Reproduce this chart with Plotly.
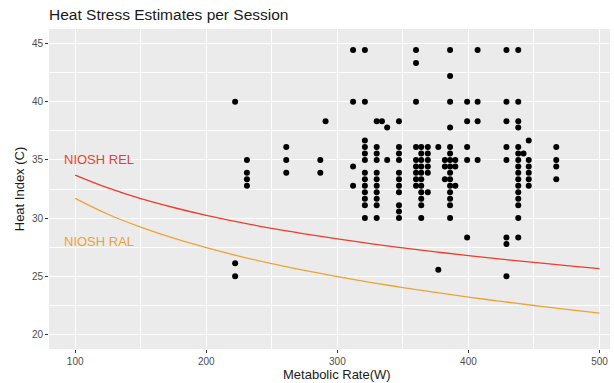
import plotly.graph_objects as go

# Observed sessions: metabolic rate (W) and heat index (C)
metabolic_rate = (
    [222] * 3 + [231] * 4 + [261] * 3 + [287] * 2 + [291] * 1 + [312] * 4
    + [321] * 13 + [330] * 11 + [334] * 1 + [338] * 2 + [347] * 11
    + [360] * 9 + [364] * 11 + [369] * 6 + [377] * 2 + [382] * 3
    + [386] * 15 + [390] * 3 + [399] * 5 + [407] * 4 + [429] * 8
    + [438] * 16 + [442] * 1 + [446] * 6 + [467] * 4
)
heat_index = [
    40.00, 26.11, 25.00,
    35.00, 33.89, 33.33, 32.78,
    36.11, 35.00, 33.89,
    35.00, 33.89,
    38.33,
    44.44, 40.00, 34.44, 32.78,
    44.44, 40.00, 36.67, 36.11, 35.56, 35.00, 33.89, 33.33, 32.78, 32.22, 31.67, 31.11, 30.00,
    38.33, 36.11, 35.56, 35.00, 33.89, 33.33, 32.78, 32.22, 31.67, 31.11, 30.00,
    38.33,
    37.78, 35.00,
    38.33, 36.11, 35.56, 35.00, 33.89, 33.33, 32.78, 32.22, 31.11, 30.56, 30.00,
    44.44, 43.33, 40.00, 36.11, 35.00, 34.44, 33.89, 33.33, 32.78,
    36.11, 35.56, 35.00, 34.44, 33.89, 33.33, 32.78, 32.22, 31.67, 31.11, 30.00,
    36.11, 35.56, 35.00, 34.44, 33.89, 32.22,
    36.11, 25.56,
    35.00, 34.44, 33.33,
    44.44, 42.22, 40.00, 37.78, 36.11, 35.56, 35.00, 34.44, 33.89, 33.33, 32.78, 32.22, 31.67, 31.11, 30.00,
    35.00, 34.44, 32.78,
    40.00, 38.33, 36.11, 35.00, 28.33,
    44.44, 40.00, 38.33, 35.00,
    44.44, 40.00, 38.33, 36.11, 35.00, 28.33, 27.78, 25.00,
    44.44, 40.00, 38.33, 37.78, 36.11, 35.56, 35.00, 34.44, 33.89, 33.33, 32.78, 32.22, 31.67, 31.11, 30.00, 28.33,
    35.56,
    36.67, 35.00, 34.44, 33.89, 33.33, 32.78,
    36.11, 35.00, 34.44, 33.33,
]

# NIOSH limit curves
niosh_m = [100, 125, 150, 175, 200, 225, 250, 275, 300, 325, 350, 375, 400, 425, 450, 475, 500]
niosh_rel = [33.70, 32.59, 31.67, 30.91, 30.24, 29.65, 29.12, 28.65, 28.21, 27.81,
             27.44, 27.10, 26.78, 26.47, 26.19, 25.92, 25.66]
niosh_ral = [31.70, 30.33, 29.22, 28.27, 27.46, 26.73, 26.09, 25.51, 24.97, 24.48,
             24.03, 23.61, 23.21, 22.84, 22.49, 22.16, 21.84]

x_ticks = [100, 200, 300, 400, 500]
y_ticks = [20, 25, 30, 35, 40, 45]

RED = "#F23B2A"
ORANGE = "#EFA234"
FONT = "Liberation Sans, Arial, sans-serif"

fig = go.Figure()
fig.add_trace(go.Scatter(x=niosh_m, y=niosh_rel, mode="lines", line=dict(color=RED, width=1.3, shape="spline"),
                         hoverinfo="skip", showlegend=False))
fig.add_trace(go.Scatter(x=niosh_m, y=niosh_ral, mode="lines", line=dict(color=ORANGE, width=1.3, shape="spline"),
                         hoverinfo="skip", showlegend=False))
fig.add_trace(go.Scatter(x=metabolic_rate, y=heat_index, mode="markers",
                         marker=dict(color="black", size=6), showlegend=False))

fig.add_annotation(x=118, y=35.0, text="NIOSH REL", showarrow=False,
                   font=dict(family=FONT, size=13, color=RED), xanchor="center", yanchor="middle")
fig.add_annotation(x=118, y=28.0, text="NIOSH RAL", showarrow=False,
                   font=dict(family=FONT, size=13, color=ORANGE), xanchor="center", yanchor="middle")
# x-axis title (centred on the full, partly cropped ggplot panel)
fig.add_annotation(x=(337 - 49) / 561, y=374, xref="paper", yref="paper", text="Metabolic Rate(W)",
                   showarrow=False, font=dict(family=FONT, size=13, color="#1A1A1A"),
                   xanchor="center", yanchor="middle")

axis_common = dict(
    showgrid=True, gridcolor="white", gridwidth=1.1, zeroline=False,
    ticks="outside", ticklen=3, tickwidth=1, tickcolor="#333333",
    tickfont=dict(family=FONT, size=10, color="#4D4D4D"),
    showline=False,
)

fig.update_layout(
    width=614, height=383,
    margin=dict(l=49, r=4, t=29, b=34),
    paper_bgcolor="white", plot_bgcolor="#EBEBEB",
    font=dict(family=FONT),
    title=dict(text="Heat Stress Estimates per Session", x=49 / 614, xref="container", xanchor="left",
               y=1 - 15 / 383, yref="container", yanchor="middle",
               font=dict(family=FONT, size=15.5, color="#1A1A1A")),
    xaxis=dict(range=[80, 508], tickvals=x_ticks,
               minor=dict(tick0=50, dtick=50, showgrid=True, gridcolor="white", gridwidth=0.5, ticks=""),
               **axis_common),
    yaxis=dict(range=[18.75, 46.25], tickvals=y_ticks,
               minor=dict(tick0=22.5, dtick=2.5, showgrid=True, gridcolor="white", gridwidth=0.5, ticks=""),
               title=dict(text="Heat Index (C)", font=dict(family=FONT, size=13, color="#1A1A1A"), standoff=4),
               **axis_common),
)
# place the x title in pixel terms: convert 374 px from top into paper coords
fig.layout.annotations[-1].y = (383 - 34 - 374) / (383 - 29 - 34)

fig.write_html("out.html", config={"displayModeBar": False},
               post_script="document.body.style.margin='0';document.body.style.padding='0';")
